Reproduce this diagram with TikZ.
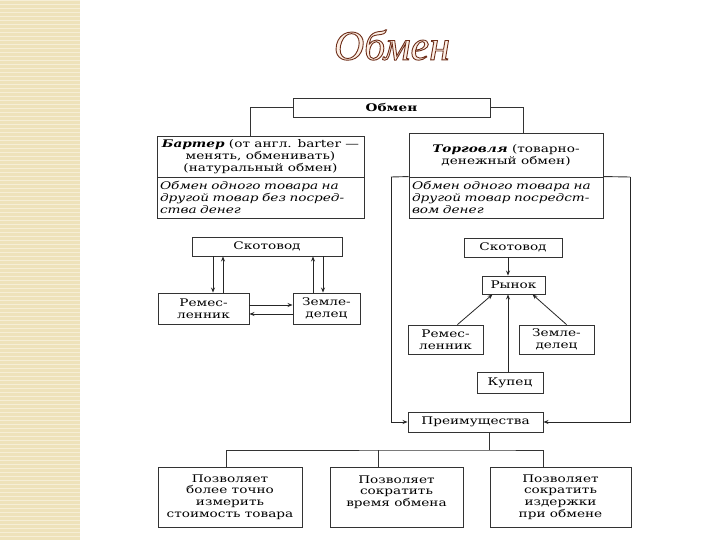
\documentclass[tikz,border=0pt]{standalone}
\usepackage{fontspec}
\usetikzlibrary{arrows.meta}
\newfontfamily\dfont{DejaVu Serif}[FakeStretch=1.3]
\newfontfamily\tfont{Liberation Serif}
\definecolor{beige}{RGB}{238,226,186}
\definecolor{stripe}{RGB}{246,238,214}
\definecolor{titlefill}{RGB}{252,238,228}
\newcommand{\outlinetext}[1]{\special{pdf:literal direct 2 Tr 0.9 w 0.43 0.18 0.10 RG}#1\special{pdf:literal direct 0 Tr}}
\tikzset{
  box/.style={draw=black!80, line width=0.9pt, inner sep=2pt, align=center,
    font=\dfont\fontsize{10.5}{11.7}\selectfont},
  arr/.style={-{Stealth[length=5pt,width=4pt]}, line width=0.8pt, draw=black!85},
  ln/.style={line width=0.9pt, draw=black!80},
}
\begin{document}
\begin{tikzpicture}[x=1pt,y=-1pt]
\useasboundingbox (0,0) rectangle (720,540);
\fill[white] (0,0) rectangle (720,540);
\fill[beige] (0,0) rectangle (80,540);
\foreach \yy in {0,4,...,540} \fill[stripe] (0,\yy) rectangle (80,\yy+1.4);

% title
\node (title) at (392,45) {\tfont\itshape\fontsize{42}{44}\selectfont\textcolor{titlefill}{\outlinetext{Обмен}}};

% top
\node[box, minimum width=197pt, minimum height=19pt] (obmen) at (391.5,107.5) {\bfseries Обмен};
\node[box, minimum width=207pt, minimum height=41pt, inner xsep=1pt] (barterTop) at (260.5,156.5)
  {\textbf{\textit{Бартер}} (от англ. barter —\\ менять, обменивать)\\ (натуральный обмен)};
\node[box, text width=201pt, align=left, inner xsep=3pt, minimum height=41pt] (barterBot) at (260.5,197.5)
  {\itshape Обмен одного товара на\\ другой товар без посред-\\ ства денег};
\node[box, minimum width=194pt, minimum height=44pt] (torgTop) at (506,155)
  {\textbf{\textit{Торговля}} (товарно-\\ денежный обмен)};
\node[box, text width=188pt, align=left, inner xsep=3pt, minimum height=41pt] (torgBot) at (506,197.5)
  {\itshape Обмен одного товара на\\ другой товар посредст-\\ вом денег};

\draw[ln] (obmen.west) -| ([xshift=-10.5pt]barterTop.north);
\draw[ln] (obmen.east) -| ([xshift=17pt]torgTop.north);

% left diagram
\node[box, minimum width=150pt, minimum height=19pt] (skot1) at (267,246.5) {Скотовод};
\node[box, minimum width=91pt, minimum height=31pt] (rem1) at (203.5,308.5) {Ремес-\\ленник};
\node[box, minimum width=67pt, minimum height=31pt] (zem1) at (326.5,308.5) {Земле-\\делец};
\draw[arr] (skot1.south -| 213,0) -- (rem1.north -| 213,0);
\draw[arr] (rem1.north -| 223,0) -- (skot1.south -| 223,0);
\draw[arr] (zem1.north -| 313,0) -- (skot1.south -| 313,0);
\draw[arr] (skot1.south -| 323,0) -- (zem1.north -| 323,0);
\draw[arr] (rem1.east |- 0,305) -- (zem1.west |- 0,305);
\draw[arr] (zem1.west |- 0,314) -- (rem1.east |- 0,314);

% right diagram
\node[box, minimum width=98pt, minimum height=19pt] (skot2) at (513,247.5) {Скотовод};
\node[box, minimum width=63pt, minimum height=18pt] (rynok) at (513.5,285) {Рынок};
\node[box, minimum width=75pt, minimum height=29pt] (rem2) at (445.5,339.5) {Ремес-\\ленник};
\node[box, minimum width=75pt, minimum height=29pt] (zem2) at (556.5,339.5) {Земле-\\делец};
\node[box, minimum width=66pt, minimum height=21pt] (kupec) at (510,382.5) {Купец};
\node[box, minimum width=135pt, minimum height=20pt] (prem) at (475.5,422) {Преимущества};
\draw[arr] (skot2.south -| 508,0) -- (rynok.north -| 508,0);
\draw[arr] (kupec.north -| 508,0) -- (rynok.south -| 508,0);
\draw[arr] ([xshift=12pt]rem2.north) -- ([xshift=-21pt]rynok.south);
\draw[arr] ([xshift=10pt]zem2.north) -- ([xshift=19pt]rynok.south);

% frame
\coordinate (fTL) at (391,177);
\coordinate (fTR) at (630,177);
\draw[ln] (fTL) -- (torgBot.north west);
\draw[ln] (torgBot.north east) -- (fTR);
\draw[arr] (fTL) |- (prem.west);
\draw[arr] (fTR) |- (prem.east);

% bottom
\node[box, minimum width=144pt, minimum height=60pt] (b1) at (230,497)
  {Позволяет\\ более точно\\ измерить\\ стоимость товара};
\node[box, minimum width=133pt, minimum height=60pt] (b2) at (396.5,497)
  {Позволяет\\ сократить\\ время обмена\\ \mbox{}};
\node[box, minimum width=141pt, minimum height=60pt] (b3) at (560.5,497)
  {Позволяет\\ сократить\\ издержки\\ при обмене};
\coordinate (bus) at (489,450);
\draw[ln] (prem.south -| bus) -- (bus);
\draw[ln] (b1.north -| 226,0) |- (bus) -| (b3.north -| 543,0);
\draw[ln] (b2.north -| 378,0) -- (378,450);
\end{tikzpicture}
\end{document}
